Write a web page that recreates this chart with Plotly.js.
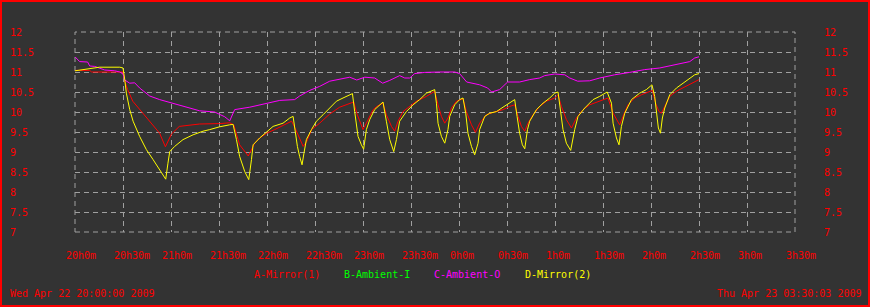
<!DOCTYPE html>
<html>
<head>
<meta charset="utf-8">
<script src="https://cdn.plot.ly/plotly-3.0.1.min.js"></script>
<style>
html,body{margin:0;padding:0;background:#333333;}
#wrap{position:relative;width:870px;height:307px;}
#chart{width:870px;height:307px;}
#frame{position:absolute;left:0;top:0;width:866px;height:303px;border:2px solid #ff0000;pointer-events:none;}
</style>
</head>
<body>
<div id="wrap"><div id="chart"></div><div id="frame"></div></div>
<script>
// ---- data (minutes after Wed Apr 22 20:00:00 2009) ----
const minutesA = [0,9.2,10.4,30,31.1,32.9,36.1,40.4,46.7,52.9,56.5,60.3,65.2,77.9,90.4,96.7,99.2,102.9,108.3,112.3,115.4,119.8,124.8,131.1,135.4,137.3,140.4,142.6,144.8,147.9,152.9,159.2,165.4,171.7,174.2,176.1,180,183.1,186.3,188.6,192.5,194.6,197.8,199.8,201.9,205,209.2,213.4,219.6,224.8,226.9,229,231.1,233.1,235.3,238.4,242.5,244.6,247.8,250.3,252.9,257.1,261.3,267.5,271.7,274.8,276.9,279,281.1,283.1,286.3,290.4,294.6,299.8,301.9,304,307.1,310.3,313.4,317.5,321.7,327.9,333.1,336.3,338.4,340.4,342.5,345.6,349.8,354,360.9,362.9,365,366.5,368.6,371.7,375.9,382.1,386.3,390];
const valuesA = [11.04,11.04,11.0,11.0,10.77,10.56,10.27,10.06,9.77,9.47,9.13,9.45,9.64,9.70,9.71,9.73,9.68,9.18,8.9,9.22,9.35,9.47,9.56,9.68,9.77,9.62,9.31,9.14,9.26,9.56,9.72,9.95,10.12,10.22,10.25,9.97,9.56,9.8,10.06,10.14,10.22,9.93,9.64,9.52,9.77,10.01,10.14,10.27,10.39,10.52,10.18,9.89,9.72,9.85,10.1,10.27,10.33,10.01,9.68,9.49,9.72,9.93,9.99,10.06,10.14,10.18,9.89,9.64,9.52,9.72,9.93,10.14,10.27,10.35,10.43,10.14,9.81,9.6,9.85,10.06,10.18,10.27,10.35,9.97,9.81,9.68,9.89,10.18,10.35,10.43,10.54,10.22,10.01,9.97,10.14,10.39,10.52,10.64,10.72,10.81];

const minutesB = [];
const valuesB = [];

const minutesC = [0,1.7,2.9,7.9,9.2,12.3,15.4,18.6,24.8,28,30,31.1,34.2,37.3,40.4,46.7,52.9,59.8,65.2,71.7,77.9,87.3,93.6,96.7,99.8,109.2,115.4,119.8,128,137.3,140.4,146.7,152.9,159.2,165.4,171.7,176.1,181.1,187.3,192.3,196.7,202.9,206.1,209.2,212.3,218.6,228,237.3,240.4,244.8,252.9,257.9,260.4,265.4,270.4,277.9,284.2,290.4,293.6,299.8,306.1,309.2,314.2,321.7,327.9,337.3,346.7,356.1,365.4,374.8,384.2,387.3,390];
const valuesC = [11.38,11.3,11.26,11.25,11.15,11.14,11.1,11.05,11.03,11.0,10.95,10.8,10.72,10.73,10.6,10.4,10.31,10.23,10.18,10.1,10.03,10.0,9.88,9.78,10.06,10.12,10.18,10.22,10.29,10.31,10.4,10.54,10.64,10.77,10.82,10.87,10.8,10.87,10.85,10.72,10.79,10.91,10.85,10.85,10.96,10.99,11.0,11.0,10.96,10.75,10.68,10.6,10.5,10.56,10.75,10.75,10.81,10.85,10.91,10.95,10.93,10.85,10.77,10.78,10.85,10.93,10.99,11.06,11.1,11.18,11.26,11.35,11.38];

const minutesD = [0,6.1,12.3,15.4,28,30,31.1,32.1,34.2,36.3,40.4,44.6,48.8,52.9,56.7,58.1,59.2,62.3,67.5,73.8,80,84.2,90.4,96.7,98.8,100.9,102.9,106.1,108.6,110.3,111.3,115.4,119.6,123.8,130,134.2,136.3,137.3,139,140.4,141.9,143.1,144.6,147.8,150.9,155,159.2,163.4,167.5,171.7,173.4,174.8,176.9,179,180.4,182.1,184.2,187.3,190.4,192.5,194.6,196.7,199.2,200.9,202.9,207.1,211.3,215.4,219.6,222.8,224.8,225.9,226.9,229,231.1,233.1,234.2,237.3,240.4,242.5,244.2,245.6,247.8,249.8,251.9,252.9,256.1,259.2,263.4,267.5,271.7,274.8,276.3,277.9,279.6,281.1,282.8,284.2,288.4,292.5,296.7,299.8,301.9,302.9,305,307.1,309.8,312.3,314.4,318.6,323.8,327.9,332.6,335.3,336.3,338.4,340,341.5,343.6,347.8,352.9,357.1,360.6,362.3,363.4,364.6,365.9,367.1,368.6,371.7,375.9,380,384.2,387.3,390];
const valuesD = [11.03,11.07,11.1,11.12,11.12,11.1,10.81,10.47,10.06,9.77,9.39,9.06,8.81,8.56,8.32,8.72,9.01,9.14,9.31,9.43,9.52,9.56,9.63,9.68,9.69,9.31,8.89,8.51,8.31,8.81,9.18,9.35,9.5,9.64,9.72,9.85,9.89,9.56,9.14,8.89,8.68,8.97,9.31,9.56,9.77,9.93,10.1,10.27,10.35,10.43,10.46,10.01,9.39,9.18,9.07,9.56,9.81,10.06,10.18,10.25,9.77,9.31,9.01,9.31,9.77,10.01,10.18,10.31,10.47,10.53,10.56,10.22,9.72,9.39,9.22,9.56,9.89,10.18,10.31,10.35,9.97,9.47,9.14,8.93,9.22,9.56,9.89,9.97,10.01,10.12,10.24,10.31,9.89,9.47,9.18,9.08,9.56,9.77,10.06,10.22,10.35,10.47,10.5,10.22,9.56,9.22,9.04,9.56,9.89,10.1,10.31,10.39,10.5,10.22,9.72,9.35,9.18,9.64,9.97,10.31,10.47,10.56,10.68,10.39,9.97,9.6,9.47,9.85,10.1,10.43,10.6,10.72,10.82,10.93,10.96];

const seriesNames = ["A-Mirror(1)", "B-Ambient-I", "C-Ambient-O", "D-Mirror(2)"];
const xTickMinutes = [0,30,60,90,120,150,180,210,240,270,300,330,360,390,420,450];
const xTickLabels = ["20h0m","20h30m","21h0m","21h30m","22h0m","22h30m","23h0m","23h30m","0h0m","0h30m","1h0m","1h30m","2h0m","2h30m","3h0m","3h30m"];
const yTickValues = [7,7.5,8,8.5,9,9.5,10,10.5,11,11.5,12];
const yTickLabels = ["7","7.5","8","8.5","9","9.5","10","10.5","11","11.5","12"];
const startLabel = "Wed Apr 22 20:00:00 2009";
const endLabel = "Thu Apr 23 03:30:03 2009";

// ---- styling ----
const colors = ["#ff0000", "#00ff00", "#ff00ff", "#ffff00"];
const FONT = "DejaVu Sans Mono, monospace";
const NB = "\u00A0";
const padRight = (s, n) => s + NB.repeat(Math.max(0, n - s.length));
const GRID = "#a0a0a0", DASH = "5px,4px";
const tf = c => ({family: FONT, size: 10, color: c});

const W = 870, H = 307, ML = 75, MR = 75, MT = 32, MB = 75;
const PW = W - ML - MR, PH = H - MT - MB;
const px2x = p => (p - ML) / PW;
const py2y = p => (H - MB - p) / PH;

const xs = [minutesA, minutesB, minutesC, minutesD];
const ys = [valuesA, valuesB, valuesC, valuesD];
const traces = seriesNames.map((n, i) => ({
  type: "scatter", mode: "lines", name: n,
  x: xs[i], y: ys[i],
  yaxis: i === 1 ? "y2" : "y",
  line: {color: colors[i], width: 1},
  hoverinfo: "skip"
}));

const yax = {
  range: [7, 12], tickmode: "array", tickvals: yTickValues,
  showgrid: true, gridcolor: GRID, griddash: DASH, gridwidth: 1,
  zeroline: false, showline: false, ticks: "",
  tickfont: tf("#ff0000"), fixedrange: true
};

// x tick labels: left-aligned slightly before each grid line (as in the original)
const annotations = xTickMinutes.map((m, i) => ({
  xref: "x", yref: "paper", x: m, y: py2y(255), xshift: -11.5,
  xanchor: "left", yanchor: "middle", showarrow: false,
  text: xTickLabels[i], font: tf("#ff0000")
}));
const legendX = [254, 344, 434, 525];
seriesNames.forEach((n, i) => annotations.push({
  xref: "paper", yref: "paper", x: px2x(legendX[i] - 2), y: py2y(274),
  xanchor: "left", yanchor: "middle", showarrow: false, text: n, font: tf(colors[i])
}));
annotations.push({xref: "paper", yref: "paper", x: px2x(8), y: py2y(293), xanchor: "left", yanchor: "middle",
  showarrow: false, text: startLabel, font: tf("#ff0000")});
annotations.push({xref: "paper", yref: "paper", x: px2x(864), y: py2y(293), xanchor: "right", yanchor: "middle",
  showarrow: false, text: endLabel, font: tf("#ff0000")});

const layout = {
  width: W, height: H,
  margin: {l: ML, r: MR, t: MT, b: MB, pad: 0},
  paper_bgcolor: "#333333", plot_bgcolor: "#333333",
  showlegend: false,
  xaxis: {
    range: [0, 450], tickmode: "array", tickvals: xTickMinutes, ticktext: xTickLabels,
    showticklabels: false,
    showgrid: true, gridcolor: GRID, griddash: DASH, gridwidth: 1,
    zeroline: false, showline: false, ticks: "", fixedrange: true
  },
  yaxis: Object.assign({}, yax, {ticktext: yTickLabels.map(s => padRight(s, 4)), ticklabelstandoff: 40}),
  yaxis2: Object.assign({}, yax, {overlaying: "y", side: "right", showgrid: false,
    ticktext: yTickLabels, ticklabelstandoff: 28}),
  shapes: [{type: "rect", xref: "paper", yref: "paper", x0: 0, x1: 1, y0: 0, y1: 1,
    line: {color: GRID, width: 1, dash: DASH}, layer: "below"}],
  annotations: annotations
};

Plotly.newPlot("chart", traces, layout, {staticPlot: true, displayModeBar: false});
</script>
</body>
</html>
